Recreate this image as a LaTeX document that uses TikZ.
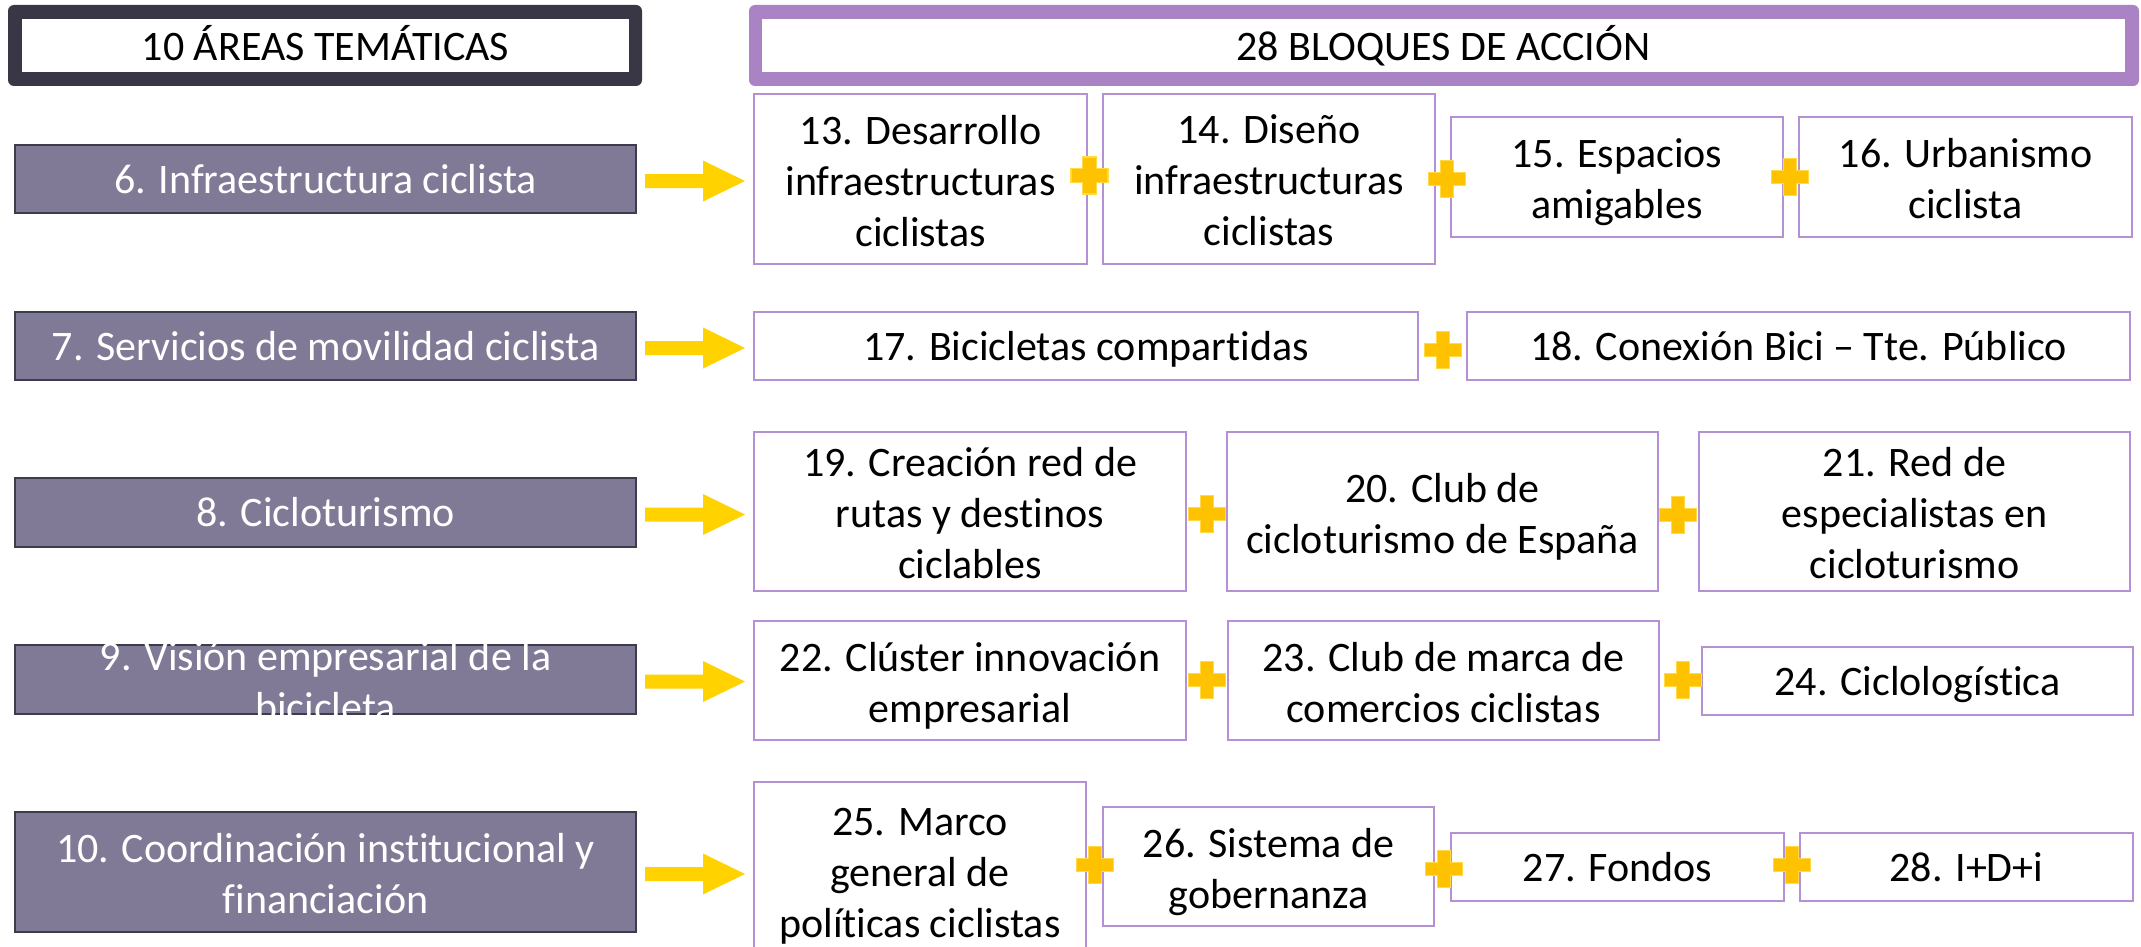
\documentclass[tikz,border=0pt]{standalone}
\usepackage{fontspec}
\setmainfont{Carlito}[Ligatures=NoCommon]
\usetikzlibrary{calc}
\definecolor{hddark}{RGB}{57,55,70}
\definecolor{hdpurple}{RGB}{170,131,196}
\definecolor{lfill}{RGB}{128,122,151}
\definecolor{ldraw}{RGB}{62,60,76}
\definecolor{rdraw}{RGB}{180,145,212}
\definecolor{arrowyel}{RGB}{255,210,0}
\definecolor{plusfill}{RGB}{255,194,0}
\definecolor{plusedge}{RGB}{255,218,70}
\newcommand\cf{\fontsize{42}{51}\selectfont}
\newcommand\topst{\rule{0pt}{37pt}}
\newcommand\botst{\rule[-9pt]{0pt}{9pt}}
\newcommand\hdtop{\rule{0pt}{38pt}}
\newcommand\hdbot{\rule[-8pt]{0pt}{8pt}}
% left box: name, x, y, height, text y-offset, text
\newcommand\lb[6]{%
  \node[lbox, minimum height=#4pt] (#1) at (#2,#3) {};
  \node[txt, text=white] (#1t) at ($(#1.center)+(0,#5)$) {#6};}
% right box: name, x, y, width, height, text y-offset, text
\newcommand\rb[7]{%
  \node[rbox, minimum width=#4pt, minimum height=#5pt] (#1) at (#2,#3) {};
  \node[txt] (#1t) at ($(#1.center)+(0,#6)$) {#7};}
\begin{document}
\begin{tikzpicture}[x=1pt,y=-1pt,
  every node/.style={inner sep=0pt, outer sep=0pt, align=center, font=\cf},
  lbox/.style={draw=ldraw, line width=1.8pt, fill=lfill, minimum width=621pt},
  rbox/.style={draw=rdraw, line width=2.2pt, fill=white},
  txt/.style={text=black, execute at begin node=\topst, execute at end node=\botst},
  hdtxt/.style={fill=white, text=black, minimum height=53pt, execute at begin node=\hdtop, execute at end node=\hdbot},
  pics/yarr/.style={code={\fill[arrowyel] (0,-7) -- (58,-7) -- (58,-20.5) -- (100,0) -- (58,20.5) -- (58,7) -- (0,7) -- cycle;}},
  pics/plussign/.style={code={\path[fill=plusfill, draw=plusedge, line width=1.2pt]
     (-18.5,-6.75) -- (-6.75,-6.75) -- (-6.75,-18.5) -- (6.75,-18.5) -- (6.75,-6.75) -- (18.5,-6.75)
     -- (18.5,6.75) -- (6.75,6.75) -- (6.75,18.5) -- (-6.75,18.5) -- (-6.75,6.75) -- (-18.5,6.75) -- cycle;}}
]
\useasboundingbox (0,0) rectangle (2141,947);
\clip (0,0) rectangle (2141,947);
\fill[white] (0,0) rectangle (2141,947);

% headers
\fill[hddark, rounded corners=6pt] (8,5) rectangle (642,86);
\node[hdtxt, minimum width=607pt] (hl) at (325.5,45.5) {10 ÁREAS TEMÁTICAS};
\fill[hdpurple, rounded corners=6pt] (749,5) rectangle (2139,86);
\node[hdtxt, minimum width=1363pt] (hr) at (1443.5,45.5) {28 BLOQUES DE ACCIÓN};

% left boxes
\lb{a6}{325.5}{179}{68}{0}{6. Infraestructura ciclista}
\lb{a7}{325.5}{346}{68}{0}{7. Servicios de movilidad ciclista}
\lb{a8}{325.5}{512.5}{69}{0}{8. Cicloturismo}
\lb{a9}{325.5}{679.5}{69}{6}{9. Visión empresarial de la\\bicicleta}
\lb{a10}{325.5}{872}{120}{6}{10. Coordinación institucional y\\financiación}

% arrows
\foreach \n in {6,...,10} { \pic at ($(a\n.east)+(9,2)$) {yarr}; }

% right boxes
\rb{b13}{920.5}{179}{333}{170}{6}{13. Desarrollo\\infraestructuras\\ciclistas}
\rb{b14}{1269}{179}{332}{170}{6}{14. Diseño\\infraestructuras\\ciclistas}
\rb{b15}{1617}{177}{332}{120}{6}{15. Espacios\\amigables}
\rb{b16}{1965.5}{177}{333}{120}{6}{16. Urbanismo\\ciclista}

\rb{b17}{1086}{346}{664}{68}{0}{17. Bicicletas compartidas}
\rb{b18}{1798.5}{346}{663}{68}{0}{18. Conexión Bici – Tte. Público}

\rb{b19}{970}{511.5}{432}{159}{6}{19. Creación red de\\rutas y destinos\\ciclables}
\rb{b20}{1442.5}{511.5}{431}{159}{6}{20. Club de\\cicloturismo de España}
\rb{b21}{1914.5}{511.5}{431}{159}{6}{21. Red de\\especialistas en\\cicloturismo}

\rb{b22}{970}{680.5}{432}{119}{6}{22. Clúster innovación\\empresarial}
\rb{b23}{1443.5}{680.5}{431}{119}{6}{23. Club de marca de\\comercios ciclistas}
\rb{b24}{1917.5}{681}{431}{68}{0}{24. Ciclologística}

\rb{b25}{920}{871}{332}{178}{6}{25. Marco\\general de\\políticas ciclistas}
\rb{b26}{1268.5}{866.5}{331}{119}{6}{26. Sistema de\\gobernanza}
\rb{b27}{1617.5}{867}{333}{68}{0}{27. Fondos}
\rb{b28}{1966.5}{867}{333}{68}{0}{28. I+D+i}

% plus signs
\foreach \px/\py in {1089.5/175.5, 1447/179, 1790/177, 1443/350, 1207/514, 1678/515,
                     1207/680, 1683/680, 1095/865, 1444/869, 1792/865}
  { \pic at (\px,\py) {plussign}; }
\end{tikzpicture}
\end{document}
